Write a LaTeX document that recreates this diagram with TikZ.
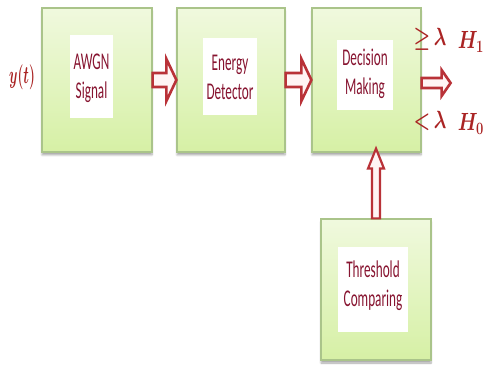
\documentclass[tikz,border=0pt]{standalone}
\usepackage{fontspec}
\setmainfont{Carlito}
\usepackage{amssymb}
\usetikzlibrary{calc,shadows.blur}
\definecolor{txtred}{RGB}{135,20,48}
\definecolor{mathred}{RGB}{170,36,36}
\definecolor{arrred}{RGB}{185,50,56}
\definecolor{arrfill}{RGB}{255,244,244}
\definecolor{boxtop}{RGB}{240,249,222}
\definecolor{boxbot}{RGB}{214,240,165}
\definecolor{boxline}{RGB}{170,196,138}
\tikzset{
  blk/.style={draw=boxline, line width=1.2pt, top color=boxtop, bottom color=boxbot,
    blur shadow={shadow xshift=0pt, shadow yshift=-3pt, shadow blur steps=6, shadow opacity=35},
    inner sep=0pt},
  inbox/.style={fill=white, inner sep=0pt},
  lbl/.style={text=txtred, font=\fontsize{24}{29}\selectfont, align=center, inner sep=0pt, xscale=0.55},
  mlbl/.style={text=mathred, font=\fontsize{24}{24}\selectfont\boldmath, inner sep=0pt, xscale=0.75},
  fat/.style={draw=arrred, line width=2.6pt, fill=arrfill, line join=miter},
}
\begin{document}
\begin{tikzpicture}[x=1pt,y=1pt]
\useasboundingbox (0,0) rectangle (486,369);
% blocks
\node[blk, minimum width=110pt, minimum height=144pt] (b1) at (97,289) {};
\node[blk, minimum width=108pt, minimum height=144pt] (b2) at (231,289) {};
\node[blk, minimum width=109pt, minimum height=144pt] (b3) at (366.5,289) {};
\node[blk, minimum width=110pt, minimum height=141pt] (b4) at (376,79.5) {};
% white inner panels
\node[inbox, minimum width=43pt, minimum height=83pt] (w1) at (91.5,292.5) {};
\node[inbox, minimum width=54pt, minimum height=77pt] (w2) at (230,292.5) {};
\node[inbox, minimum width=56pt, minimum height=70pt] (w3) at (365,294) {};
\node[inbox, minimum width=70pt, minimum height=85pt] (w4) at (373,79.5) {};
% texts
\node[lbl] (t1) at (91.5,291) {AWGN\\Signal};
\node[lbl] (t2) at (230,292) {Energy\\Detector};
\node[lbl] (t3) at (365,295) {Decision\\Making};
\node[lbl] (t4) at (373,83) {Threshold\\Comparing};
% math labels
\node[mlbl, font=\fontsize{31}{31}\selectfont\boldmath, xscale=0.72] (yt) at (22,292) {$y(t)$};
\node[mlbl] (ge) at (430,330) {${\geq}\,\lambda$};
\node[mlbl, anchor=east] (h1) at (484,327) {$H_1$};
\node[mlbl] (lt) at (430,248) {${<}\,\lambda$};
\node[mlbl, anchor=east] (h0) at (484,245) {$H_0$};
% arrows between blocks
\draw[fat] ([yshift=7pt]b1.east) -- ([xshift=-10pt,yshift=7pt]b2.west)
  -- ([xshift=-10pt,yshift=21pt]b2.west) -- (b2.west)
  -- ([xshift=-10pt,yshift=-21pt]b2.west) -- ([xshift=-10pt,yshift=-7pt]b2.west)
  -- ([yshift=-7pt]b1.east) -- cycle;
\draw[fat] ([yshift=7pt]b2.east) -- ([xshift=-10pt,yshift=7pt]b3.west)
  -- ([xshift=-10pt,yshift=21pt]b3.west) -- (b3.west)
  -- ([xshift=-10pt,yshift=-21pt]b3.west) -- ([xshift=-10pt,yshift=-7pt]b3.west)
  -- ([yshift=-7pt]b2.east) -- cycle;
\coordinate (outtip) at ([xshift=29pt,yshift=-3pt]b3.east);
\draw[fat] ([yshift=5pt]b3.east |- outtip) -- ([xshift=-9pt,yshift=5pt]outtip)
  -- ([xshift=-9pt,yshift=13pt]outtip) -- (outtip)
  -- ([xshift=-9pt,yshift=-13pt]outtip) -- ([xshift=-9pt,yshift=-5pt]outtip)
  -- ([yshift=-5pt]b3.east |- outtip) -- cycle;
% vertical arrow from threshold to decision
\coordinate (vtip) at ([yshift=4pt]b4.north |- b3.south);
\draw[fat, line width=2.2pt] ([xshift=-4pt]b4.north) -- ([xshift=-4pt,yshift=-20pt]vtip)
  -- ([xshift=-8pt,yshift=-20pt]vtip) -- (vtip)
  -- ([xshift=8pt,yshift=-20pt]vtip) -- ([xshift=4pt,yshift=-20pt]vtip)
  -- ([xshift=4pt]b4.north) -- cycle;
\end{tikzpicture}
\end{document}
